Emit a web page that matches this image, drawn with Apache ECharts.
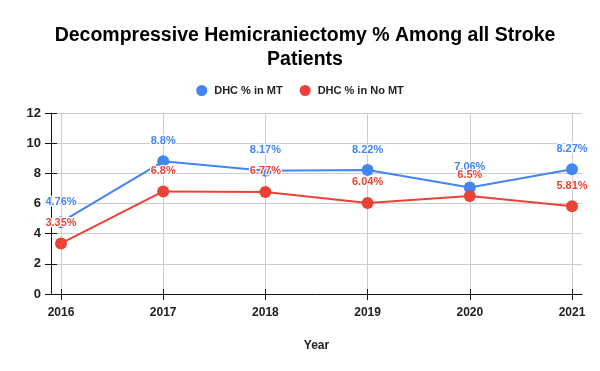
<!DOCTYPE html>
<html><head><meta charset="utf-8">
<script src="https://cdn.jsdelivr.net/npm/echarts@6/dist/echarts.min.js"></script>
<style>html,body{margin:0;padding:0;background:#fff}#c{width:600px;height:371px}</style>
</head><body><div id="c"></div>
<script>
const years = ['2016', '2017', '2018', '2019', '2020', '2021'];
const mtValues = [4.76, 8.8, 8.17, 8.22, 7.06, 8.27];
const noMtValues = [3.35, 6.8, 6.77, 6.04, 6.5, 5.81];
const seriesNames = ['DHC % in MT', 'DHC % in No MT'];
const yMin = 0, yMax = 12, yInterval = 2;
const titleText = 'Decompressive Hemicraniectomy % Among all Stroke\nPatients';
const xAxisName = 'Year';

const FONT = 'Liberation Sans, Arial, sans-serif';
const BLUE = '#4285F4', RED = '#EA4335';
const GRID_COLOR = '#cccccc', AXIS_COLOR = '#111111';

const chart = echarts.init(document.getElementById('c'), null, {renderer: 'canvas'});

function lineSeries(name, data, color, z) {
  return {
    name, type: 'line', data, xAxisIndex: 0, yAxisIndex: 0,
    symbol: 'circle', symbolSize: 12,
    lineStyle: {color, width: 2},
    itemStyle: {color},
    label: {
      show: true, position: 'top', distance: 9,
      color, fontFamily: FONT, fontSize: 11, fontWeight: 'bold',
      textBorderColor: '#ffffff', textBorderWidth: 2.5,
      formatter: p => p.value + '%'
    },
    z
  };
}

chart.setOption({
  animation: false,
  backgroundColor: '#ffffff',
  textStyle: {fontFamily: FONT},
  title: {
    text: titleText, left: 300, top: 19, textAlign: 'center',
    textStyle: {fontFamily: FONT, fontSize: 19.5, fontWeight: 'bold', color: '#000', lineHeight: 24}
  },
  legend: {
    top: 80, left: 'center', itemWidth: 11, itemHeight: 11, itemGap: 17,
    icon: 'circle',
    data: seriesNames,
    textStyle: {fontFamily: FONT, fontSize: 11, fontWeight: 'bold', color: '#222', padding: [0, 0, 0, 2]}
  },
  grid: [
    {left: 61, right: 28, top: 113, bottom: 77},
    {left: 51, right: 18, top: 113, bottom: 77}
  ],
  xAxis: [
    {
      gridIndex: 0, type: 'category', data: years, boundaryGap: false,
      axisLine: {show: false},
      axisTick: {show: true, inside: false, length: 6, alignWithLabel: true, lineStyle: {color: AXIS_COLOR}},
      axisLabel: {margin: 13, fontFamily: FONT, fontSize: 12, fontWeight: 'bold', color: '#222'},
      splitLine: {show: true, lineStyle: {color: GRID_COLOR, width: 1}}
    },
    {
      gridIndex: 0, type: 'category', data: years, boundaryGap: false, position: 'bottom',
      axisLine: {show: false},
      axisTick: {show: true, inside: true, length: 5, lineStyle: {color: AXIS_COLOR}},
      axisLabel: {show: false},
      splitLine: {show: false}
    },
    {
      gridIndex: 1, type: 'value', min: 0, max: 1, position: 'bottom',
      axisLine: {show: true, lineStyle: {color: AXIS_COLOR, width: 1}},
      axisTick: {show: false}, axisLabel: {show: false}, splitLine: {show: false},
      name: xAxisName, nameLocation: 'middle', nameGap: 46,
      nameTextStyle: {fontFamily: FONT, fontSize: 12, fontWeight: 'bold', color: '#222'}
    }
  ],
  yAxis: [
    {
      gridIndex: 0, type: 'value', min: yMin, max: yMax, interval: yInterval, show: false
    },
    {
      gridIndex: 1, type: 'value', min: yMin, max: yMax, interval: yInterval, position: 'left',
      axisLine: {show: true, lineStyle: {color: AXIS_COLOR, width: 1}},
      axisTick: {show: true, inside: false, length: 6, lineStyle: {color: AXIS_COLOR}},
      axisLabel: {margin: 10, fontFamily: FONT, fontSize: 13, fontWeight: 'bold', color: '#222'},
      splitLine: {show: true, lineStyle: {color: GRID_COLOR, width: 1}}
    },
    {
      gridIndex: 1, type: 'value', min: yMin, max: yMax, interval: yInterval, position: 'left', offset: 0,
      axisLine: {show: false},
      axisTick: {show: true, inside: true, length: 6, lineStyle: {color: AXIS_COLOR}},
      axisLabel: {show: false}, splitLine: {show: false}
    }
  ],
  series: [
    lineSeries(seriesNames[0], mtValues, BLUE, 5),
    lineSeries(seriesNames[1], noMtValues, RED, 6)
  ]
});
</script>
</body></html>
